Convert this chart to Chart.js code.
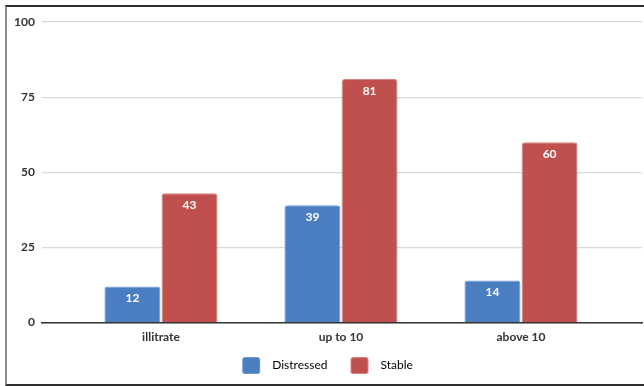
<!DOCTYPE html>
<html>
<head>
<meta charset="utf-8">
<script src="https://cdn.jsdelivr.net/npm/chart.js@4"></script>
<style>
  html, body { margin: 0; padding: 0; background: #ffffff; }
  #wrap { position: relative; width: 644px; height: 386px; overflow: hidden; }
  #frame {
    position: absolute; left: 5px; top: 5px; width: 639px; height: 377px;
    border-left: 2px solid #8c8c8c; border-top: 2px solid #2e2e2e; border-bottom: 2px solid #2e2e2e;
    pointer-events: none;
  }
  canvas { position: absolute; left: 0; top: 0; }
</style>
</head>
<body>
<div id="wrap">
  <canvas id="c" width="644" height="386"></canvas>
  <div id="frame"></div>
</div>
<script>
// Education level groups and the two outcome series
const categories = ['illitrate', 'up to 10', 'above 10'];
const distressed = [12, 39, 14];
const stable = [43, 81, 60];
const yTicks = [0, 25, 50, 75, 100];

const FONT = 'Lato, "Open Sans", sans-serif';

// Legend marker: a rounded swatch sitting inside a wider transparent cell,
// so the spacing around it can be set independently of the label text
function swatch(fill, stroke) {
  const c = document.createElement('canvas');
  c.width = 35; c.height = 17;
  const g = c.getContext('2d');
  g.fillStyle = fill;
  g.strokeStyle = stroke;
  g.lineWidth = 1;
  g.beginPath();
  g.roundRect(11.5, 0.5, 17, 16, 2);
  g.fill();
  g.stroke();
  return c;
}

// Writes each bar's value in white just under its top edge
const barValueLabels = {
  id: 'barValueLabels',
  afterDatasetsDraw(chart) {
    const ctx = chart.ctx;
    ctx.save();
    ctx.fillStyle = '#ffffff';
    ctx.font = 'bold 12px ' + FONT;
    ctx.textAlign = 'center';
    ctx.textBaseline = 'middle';
    chart.data.datasets.forEach((ds, di) => {
      const meta = chart.getDatasetMeta(di);
      meta.data.forEach((bar, i) => {
        ctx.fillText(String(ds.data[i].y), bar.x, bar.y + 12);
      });
    });
    ctx.restore();
  }
};

const toPoints = vals => vals.map((v, i) => ({ x: i, y: v }));

new Chart(document.getElementById('c'), {
  type: 'bar',
  data: {
    datasets: [
      {
        label: 'Distressed',
        data: toPoints(distressed),
        backgroundColor: '#4a7ec0',
        borderColor: '#6f99d0',
        borderWidth: 1,
        borderRadius: 3,
        categoryPercentage: 0.635,
        barPercentage: 0.98
      },
      {
        label: 'Stable',
        data: toPoints(stable),
        backgroundColor: '#c0504d',
        borderColor: '#d9807d',
        borderWidth: 1,
        borderRadius: 3,
        categoryPercentage: 0.635,
        barPercentage: 0.98
      }
    ]
  },
  options: {
    responsive: false,
    animation: false,
    layout: { padding: { top: 22, right: 2, left: 2, bottom: 4.4 } },
    scales: {
      x: {
        type: 'linear',
        offset: false,
        min: -0.661,
        max: 2.672,
        grid: { display: false, drawTicks: false, offset: false },
        border: { display: true, color: '#333333', width: 1.5 },
        afterBuildTicks(scale) {
          scale.ticks = categories.map((_, i) => ({ value: i }));
        },
        afterFit(scale) { scale.height = 25; },
        ticks: {
          stepSize: 1,
          padding: 7,
          color: '#333333',
          font: { family: FONT, size: 12, weight: 'bold' },
          callback: v => categories[v]
        }
      },
      y: {
        min: 0,
        max: 100,
        afterBuildTicks(scale) {
          scale.ticks = yTicks.map(v => ({ value: v }));
        },
        afterFit(scale) { scale.width = 40; },
        grid: { color: '#d9d9d9', lineWidth: 1.2, drawTicks: false },
        border: { display: false },
        ticks: {
          padding: 7,
          color: '#333333',
          font: { family: FONT, size: 12, weight: 'bold' }
        }
      }
    },
    plugins: {
      legend: {
        position: 'bottom',
        labels: {
          usePointStyle: true,
          pointStyleWidth: 35,
          boxHeight: 17,
          padding: 12,
          color: '#333333',
          font: { family: FONT, size: 12 },
          generateLabels(chart) {
            return chart.data.datasets.map((ds, i) => ({
              text: ds.label,
              pointStyle: swatch(ds.backgroundColor, ds.borderColor),
              fillStyle: ds.backgroundColor,
              strokeStyle: ds.borderColor,
              lineWidth: 0,
              datasetIndex: i,
              hidden: false
            }));
          }
        }
      },
      tooltip: { enabled: false }
    }
  },
  plugins: [barValueLabels]
});
</script>
</body>
</html>
